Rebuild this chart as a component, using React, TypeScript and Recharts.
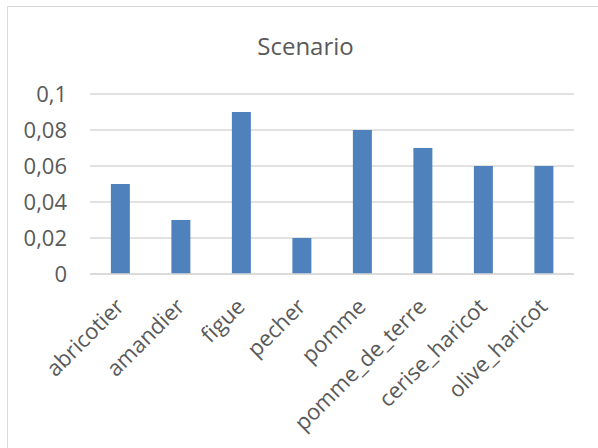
import React from "react";
import { BarChart, Bar, XAxis, YAxis, CartesianGrid } from "recharts";

const categories = [
  "abricotier",
  "amandier",
  "figue",
  "pecher",
  "pomme",
  "pomme_de_terre",
  "cerise_haricot",
  "olive_haricot",
];
const scenarioValues = [0.05, 0.03, 0.09, 0.02, 0.08, 0.07, 0.06, 0.06];
const yTicks = [0, 0.02, 0.04, 0.06, 0.08, 0.1];
const chartTitle = "Scenario";

const data = categories.map((name, i) => ({ name, value: scenarioValues[i] }));

const FONT = "'Open Sans', 'Noto Sans', sans-serif";
const TEXT_COLOR = "#595959";
const LINE_COLOR = "#d9d9d9";

const fmt = (v: number) => String(v).replace(".", ",");

// Category labels turned 45° so that each one ends just right of its bar.
const CategoryTick = (props: any) => {
  const { x, y, payload } = props;
  const ax = x + 5;
  const ay = y + 26;
  return (
    <text
      x={ax}
      y={ay}
      transform={`rotate(-45, ${ax}, ${ay})`}
      textAnchor="end"
      fill={TEXT_COLOR}
      fontSize={22}
      fontFamily={FONT}
    >
      {payload.value}
    </text>
  );
};

export default function App() {
  return (
    <div
      style={{
        position: "absolute",
        left: 0,
        top: 0,
        width: 598,
        height: 448,
        background: "#fff",
        overflow: "hidden",
      }}
    >
      <div
        style={{
          position: "absolute",
          left: 7,
          top: 6,
          width: 620,
          height: 460,
          borderLeft: `1px solid ${LINE_COLOR}`,
          borderTop: `1px solid ${LINE_COLOR}`,
        }}
      />
      <div
        style={{
          position: "absolute",
          left: 7,
          width: 597,
          top: 30,
          textAlign: "center",
          fontFamily: FONT,
          fontSize: 24,
          color: TEXT_COLOR,
          lineHeight: "32px",
        }}
      >
        {chartTitle}
      </div>
      <div style={{ position: "absolute", left: 0, top: 0 }}>
        <BarChart
          width={598}
          height={448}
          data={data}
          margin={{ top: 94, right: 24, bottom: 54, left: 0 }}
          barCategoryGap="34.5%"
        >
          <CartesianGrid vertical={false} stroke={LINE_COLOR} strokeWidth={1.5} />
          <XAxis
            dataKey="name"
            interval={0}
            height={120}
            tickLine={false}
            axisLine={{ stroke: LINE_COLOR, strokeWidth: 1.5 }}
            tick={<CategoryTick />}
          />
          <YAxis
            width={90}
            domain={[0, 0.1]}
            ticks={yTicks}
            tickFormatter={fmt}
            axisLine={false}
            tickLine={false}
            tickSize={0}
            tickMargin={23}
            tick={{ fill: TEXT_COLOR, fontSize: 22, fontFamily: FONT }}
          />
          <Bar dataKey="value" fill="#4F81BD" isAnimationActive={false} />
        </BarChart>
      </div>
    </div>
  );
}
